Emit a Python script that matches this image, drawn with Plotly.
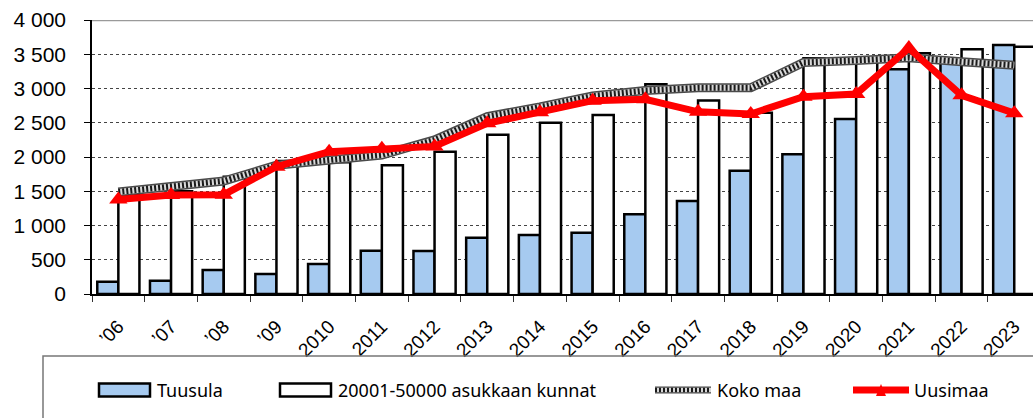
import plotly.graph_objects as go

# ---- data -------------------------------------------------------------
years = ["’06", "’07", "’08", "’09", "2010", "2011", "2012", "2013", "2014",
         "2015", "2016", "2017", "2018", "2019", "2020", "2021", "2022", "2023"]

tuusula = [180, 195, 350, 292, 438, 632, 628, 822, 861,
           895, 1163, 1358, 1800, 2040, 2555, 3280, 3380, 3635]

kunnat_20_50k = [1450, 1500, 1713, 1942, 1923, 1879, 2078, 2326, 2501,
                 2613, 3061, 2823, 2647, 3441, 3400, 3514, 3572, 3611]

koko_maa = [1490, 1570, 1650, 1880, 1960, 2030, 2250, 2590, 2730,
            2890, 2970, 3010, 3010, 3380, 3410, 3450, 3390, 3340]

uusimaa = [1380, 1445, 1450, 1859, 2078, 2120, 2155, 2492, 2652,
           2822, 2842, 2660, 2628, 2880, 2920, 3590, 2900, 2640]

y_ticks = [0, 500, 1000, 1500, 2000, 2500, 3000, 3500, 4000]
y_tick_text = ["0", "500", "1 000", "1 500", "2 000", "2 500", "3 000", "3 500", "4 000"]

legend_names = ["Tuusula", "20001-50000 asukkaan kunnat", "Koko maa", "Uusimaa"]

# ---- geometry ---------------------------------------------------------
W, H = 1033, 418
ML, MT, MB = 92, 20, 124
PW = W - ML
PH = H - MT - MB
CAT_PX = 52.7          # width of one year slot in pixels

BLUE = "#A6CAF0"
RED = "#FF0000"
AXIS_FONT = "Arial"


def fx(px):
    """pixel x -> paper x"""
    return (px - ML) / PW


def fy(py):
    """pixel y -> paper y"""
    return (H - MB - py) / PH


fig = go.Figure()

fig.add_bar(x=years, y=tuusula, name=legend_names[0],
            marker=dict(color=BLUE, line=dict(color="black", width=2.5)))
fig.add_bar(x=years, y=kunnat_20_50k, name=legend_names[1],
            marker=dict(color="white", line=dict(color="black", width=2.5)))

# Koko maa: stacked strokes give the textured grey band
fig.add_scatter(x=years, y=koko_maa, mode="lines", hoverinfo="skip",
                line=dict(color="#4a4a4a", width=9))
fig.add_scatter(x=years, y=koko_maa, mode="lines", hoverinfo="skip",
                line=dict(color="#d9d9d9", width=6))
fig.add_scatter(x=years, y=koko_maa, mode="lines", name=legend_names[2],
                line=dict(color="#1a1a1a", width=6, dash="2px,2px"))

fig.add_scatter(x=years, y=uusimaa, mode="lines+markers", name=legend_names[3],
                line=dict(color=RED, width=7),
                marker=dict(symbol="triangle-up", size=16, color=RED))

shapes = []
# grey frame line along the top of the plot
shapes.append(dict(type="line", xref="paper", yref="y", x0=0, x1=1, y0=4000, y1=4000,
                   line=dict(color="#9a9a9a", width=2.5)))

# legend frame (runs past the right and bottom edges)
shapes.append(dict(type="rect", xref="paper", yref="paper",
                   x0=fx(43), x1=fx(1060), y0=fy(356), y1=fy(460),
                   line=dict(color="#777777", width=1.5), fillcolor="rgba(0,0,0,0)"))

LY = 390  # legend row centre (px)
# bar swatches
shapes.append(dict(type="rect", xref="paper", yref="paper",
                   x0=fx(99), x1=fx(150), y0=fy(LY + 6.5), y1=fy(LY - 6.5),
                   line=dict(color="black", width=2.5), fillcolor=BLUE))
shapes.append(dict(type="rect", xref="paper", yref="paper",
                   x0=fx(280), x1=fx(331), y0=fy(LY + 6.5), y1=fy(LY - 6.5),
                   line=dict(color="black", width=2.5), fillcolor="white"))
# Koko maa swatch
for col, wd, dash in [("#4a4a4a", 7, "solid"), ("#d9d9d9", 4.5, "solid"), ("#1a1a1a", 4.5, "2px,2px")]:
    shapes.append(dict(type="line", xref="paper", yref="paper",
                       x0=fx(655), x1=fx(711), y0=fy(LY), y1=fy(LY),
                       line=dict(color=col, width=wd, dash=dash)))
# Uusimaa swatch
shapes.append(dict(type="line", xref="paper", yref="paper",
                   x0=fx(853), x1=fx(909), y0=fy(LY), y1=fy(LY),
                   line=dict(color=RED, width=7)))
tri = "M {:.5f},{:.5f} L {:.5f},{:.5f} L {:.5f},{:.5f} Z".format(
    fx(876), fy(LY + 6), fx(886), fy(LY + 6), fx(881), fy(LY - 6))
shapes.append(dict(type="path", xref="paper", yref="paper", path=tri,
                   fillcolor=RED, line=dict(color=RED, width=0)))

annotations = []
for name, px in zip(legend_names, [155, 336, 715, 912]):
    annotations.append(dict(text=name, xref="paper", yref="paper",
                            x=fx(px), y=fy(LY), xanchor="left", yanchor="middle",
                            showarrow=False,
                            font=dict(family="Noto Sans", size=18, color="black")))

fig.update_layout(
    width=W, height=H,
    margin=dict(l=ML, r=0, t=MT, b=MB, pad=0),
    showlegend=False,
    barmode="group", bargap=0.2, bargroupgap=0,
    plot_bgcolor="white", paper_bgcolor="white",
    font=dict(family=AXIS_FONT, color="black"),
    shapes=shapes, annotations=annotations,
)

fig.update_xaxes(type="category", range=[-0.5, -0.5 + PW / CAT_PX],
                 showline=True, linecolor="black", linewidth=2,
                 ticks="outside", tickson="boundaries", ticklen=6,
                 tickcolor="#333333", tickwidth=1,
                 tickangle=-45, tickfont=dict(family=AXIS_FONT, size=19),
                 ticklabelstandoff=12,
                 showgrid=False, zeroline=False)

fig.update_yaxes(range=[0, 4000], tickvals=y_ticks, ticktext=y_tick_text,
                 showline=True, linecolor="black", linewidth=1.5,
                 ticks="outside", ticklen=6, tickcolor="black", tickwidth=1,
                 showgrid=True, gridcolor="#444444", griddash="dot", gridwidth=1,
                 zeroline=False, tickfont=dict(family=AXIS_FONT, size=21),
                 ticklabelstandoff=14)

fig.write_html("out.html")
